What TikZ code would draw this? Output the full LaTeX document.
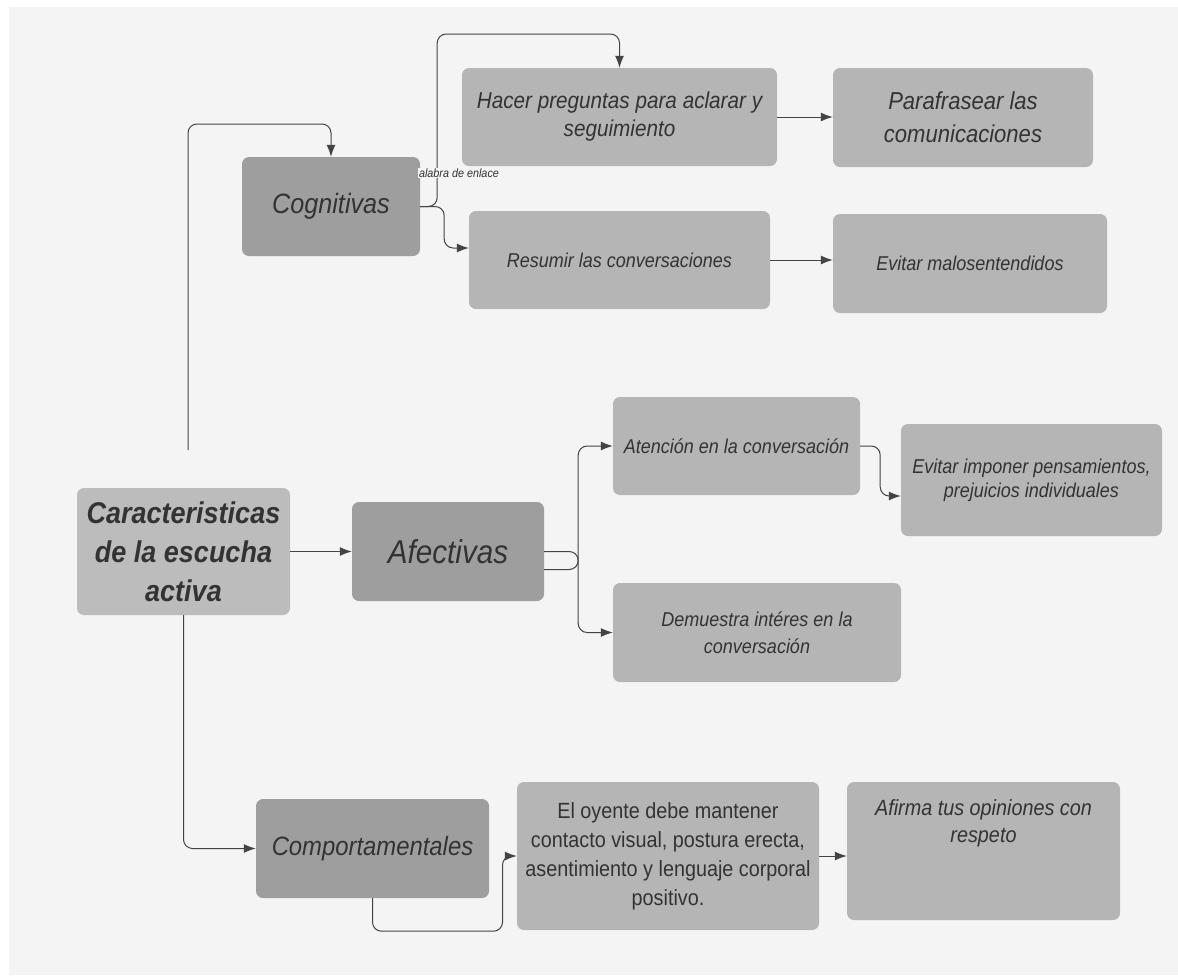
\documentclass[tikz,border=0pt]{standalone}
\usepackage{fontspec}
\setmainfont[FakeStretch=0.9]{Liberation Sans}
\usetikzlibrary{arrows.meta}
\definecolor{fondo}{HTML}{F4F4F4}
\definecolor{oscuro}{HTML}{9E9E9E}
\definecolor{claro}{HTML}{B5B5B5}
\definecolor{texto}{HTML}{333333}
\definecolor{linea}{HTML}{444444}
\newcommand{\fs}[2]{\fontsize{#1}{#2}\selectfont}

\begin{document}
\begin{tikzpicture}[x=1pt,y=-1pt,
  caja/.style={rectangle,rounded corners=7pt,fill=claro,text=texto,align=center,inner sep=0pt},
  cajaosc/.style={caja,fill=oscuro},
  flecha/.style={draw=linea,line width=1pt,rounded corners=9pt,-{Latex[length=12pt,width=9pt]}}]
 \useasboundingbox[fill=white] (0,0) rectangle (1178,975);
 \fill[fondo] (9,7) rectangle (1178,975); %fondo

 \node[caja,fill=claro!90!white,minimum width=213,minimum height=127,font={\bfseries\itshape\fs{30}{39}}] (main) at (183.5,551.5) {Caracteristicas\\de la escucha\\activa};
 \node[cajaosc,minimum width=178,minimum height=99,font={\itshape\fs{28}{32}}] (cog) at (331,206.5) {Cognitivas};
 \node[cajaosc,minimum width=192,minimum height=99,font={\itshape\fs{33}{36}}] (afec) at (448,551.5) {Afectivas};
 \node[cajaosc,minimum width=233,minimum height=99,font={\itshape\fs{26.5}{30}}] (comp) at (372.5,848.5) {Comportamentales};

 \node[caja,minimum width=315,minimum height=98,font={\itshape\fs{23}{28}}] (hacer) at (619.5,117) {Hacer preguntas para aclarar y\\seguimiento};
 \node[caja,minimum width=260,minimum height=99,font={\itshape\fs{24.5}{33}}] (paraf) at (963,117.5) {Parafrasear las\\comunicaciones};
 \node[caja,minimum width=301,minimum height=98,font={\itshape\fs{20}{24}}] (resumir) at (619.5,260) {Resumir las conversaciones};
 \node[caja,minimum width=274,minimum height=99,font={\itshape\fs{20}{24}}] (evitarm) at (970,263.5) {Evitar malosentendidos};

 \node[caja,minimum width=247,minimum height=98,font={\itshape\fs{20}{24}}] (atencion) at (736.5,446) {Atención en la conversación};
 \node[caja,minimum width=261,minimum height=112,font={\itshape\fs{20}{24}}] (imponer) at (1031.5,480) {Evitar imponer pensamientos,\\prejuicios individuales};
 \node[caja,minimum width=288,minimum height=99,font={\itshape\fs{20}{27}}] (demuestra) at (757,632.5) {Demuestra intéres en la\\conversación};

 \node[caja,minimum width=302,minimum height=148,font={\fs{22}{29}}] (oyente) at (668,856) {El oyente debe mantener\\contacto visual, postura erecta,\\asentimiento y lenguaje corporal\\positivo.};
 \node[caja,minimum width=273,minimum height=138,text depth=60pt,font={\itshape\fs{22}{27}}] (afirma) at (983.5,851) {Afirma tus opiniones con\\respeto};

 \coordinate (arranque) at (188,450); %inicio de la linea
 \draw[flecha] (arranque) -- ++(0,-326) -| (cog.north);
 \draw[flecha] (main.east) -- (afec.west);
 \draw[flecha] (main.south) |- (comp.west);

 \draw[flecha] (cog.east) -| ++(17,-172.5) -| (hacer.north);
 \draw[flecha] (cog.east) -- ++(24,0) |- ([yshift=12pt]resumir.west);
 \draw[flecha] (hacer.east) -- (hacer.east -| paraf.west);
 \draw[flecha] (resumir.east) -- (resumir.east -| evitarm.west);
 \node[font={\itshape\fs{12}{14}},text=texto,fill=fondo,inner sep=1pt] (enlace) at (459,173) {alabra de enlace};

 \draw[draw=linea,line width=1pt,rounded corners=9pt] (afec.east) -- ++(34,0) -- ++(0,18) -- ++(-34,0); %lazo
 \draw[flecha] (afec.east) ++(34,0) |- (atencion.west);
 \draw[flecha] (afec.east) ++(34,0) |- (demuestra.west);
 \draw[flecha] (atencion.east) -- ++(20,0) |- ([yshift=-16pt]imponer.west);

 \draw[flecha] (comp.south) |- ++(130,33) |- (oyente.west);
 \draw[flecha] (oyente.east) -- (oyente.east -| afirma.west);
\end{tikzpicture}
\end{document}
